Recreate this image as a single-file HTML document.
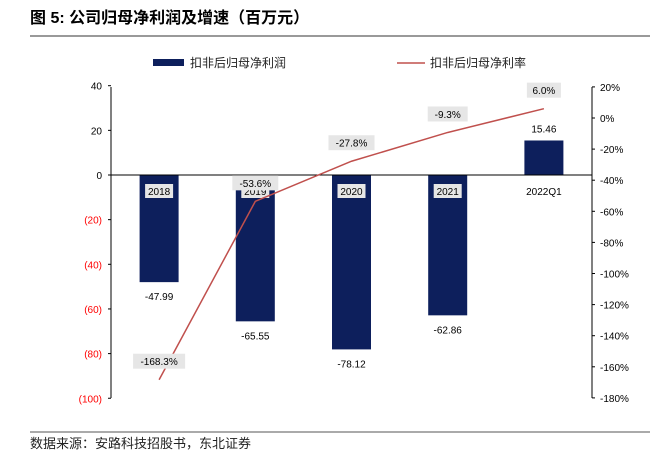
<!DOCTYPE html>
<html><head><meta charset="utf-8"><style>
body{margin:0;background:#fff;}
svg text{font-family:"Liberation Sans","Noto Sans CJK SC",sans-serif;}
</style></head><body>
<svg width="652" height="451" viewBox="0 0 652 451">
<text x="30" y="23" font-size="16" font-weight="bold" fill="#000" font-family="'Liberation Serif','Noto Serif CJK SC',serif">图 5: 公司归母净利润及增速（百万元）</text>
<line x1="30" y1="36" x2="650" y2="36" stroke="#333" stroke-width="1"/>
<g>
<rect x="153" y="59" width="31" height="7" fill="#0d1f5c"/>
<text x="190" y="67" font-size="12" fill="#222">扣非后归母净利润</text>
<line x1="397" y1="63" x2="425" y2="63" stroke="#c0504d" stroke-width="1.5"/>
<text x="430" y="67" font-size="12" fill="#222">扣非后归母净利率</text>
</g>
<g id="plot"></g>
<line x1="30" y1="432" x2="650" y2="432" stroke="#555" stroke-width="1"/>
<text x="30" y="448" font-size="13" fill="#222" font-family="'Liberation Serif','Noto Serif CJK SC',serif">数据来源：安路科技招股书，东北证券</text>
</svg>
<script>
const categories=["2018","2019","2020","2021","2022Q1"];
const profit=[-47.99,-65.55,-78.12,-62.86,15.46];
const margin=[-168.3,-53.6,-27.8,-9.3,6.0];
const leftTicks=[40,20,0,-20,-40,-60,-80,-100];
const rightTicks=[20,0,-20,-40,-60,-80,-100,-120,-140,-160,-180];
const NS="http://www.w3.org/2000/svg";
const g=document.getElementById('plot');
const X0=111,X1=592,bw=(X1-X0)/categories.length;
const yL=v=>175-v*2.2325;
const yR=v=>118-v*1.555;
const xC=i=>X0+bw/2+i*bw;
function mk(t,a,txt){const e=document.createElementNS(NS,t);for(const k in a)e.setAttribute(k,a[k]);if(txt!=null)e.textContent=txt;g.appendChild(e);return e;}
let e;
e=mk('line',{x1:X0,y1:87,x2:X0,y2:398,stroke:'#000'});


e=mk('line',{x1:X1,y1:87,x2:X1,y2:398,stroke:'#000'});


leftTicks.forEach(v=>{
 e=mk('line',{x1:X0-3,y1:yL(v),x2:X0,y2:yL(v),stroke:'#000'});
 
 
 const lab=v<0?'('+(-v)+')':String(v);
 e=mk('text',{x:X0-9,y:yL(v)+4,'font-size':10,'text-anchor':'end',fill:v<0?'#ff0000':'#000'},lab);
 
 
});
rightTicks.forEach(v=>{
 e=mk('line',{x1:X1,y1:yR(v),x2:X1+3,y2:yR(v),stroke:'#000'});
 
 
 e=mk('text',{x:X1+8,y:yR(v)+4,'font-size':10,fill:'#000'},v+'%');
 
 
});
profit.forEach((v,i)=>{
 const y0=yL(0),y1=yL(v);
 e=mk('rect',{x:xC(i)-19.5,y:Math.min(y0,y1),width:39,height:Math.abs(y1-y0),fill:'#0d1f5c'});
 
 
 e=mk('text',{x:xC(i),y:v<0?y1+18:y1-8,'font-size':10,'text-anchor':'middle',fill:'#000'},v.toFixed(2));
 
 
});
e=mk('line',{x1:X0,y1:yL(0),x2:X1,y2:yL(0),stroke:'#000'});


categories.forEach((c,i)=>{
 if(i<4){e=mk('rect',{x:xC(i)-14,y:184,width:28,height:14,fill:'#e6e6e6'});
 
 }
 e=mk('text',{x:xC(i),y:195,'font-size':10,'text-anchor':'middle',fill:'#000'},c);
 
 
});
e=mk('polyline',{points:margin.map((v,i)=>xC(i)+','+yR(v)).join(' '),fill:'none',stroke:'#c0504d','stroke-width':1.5});


margin.forEach((v,i)=>{
 const y=yR(v)-18;
 const t=v.toFixed(1)+'%';
 const w=t.length*6+10;
 e=mk('rect',{x:xC(i)-w/2,y:y-8,width:w,height:15,fill:'#e6e6e6'});
 
 
 e=mk('text',{x:xC(i),y:y+3.5,'font-size':10,'text-anchor':'middle',fill:'#000'},t);
 
 
});
</script>
</body></html>
